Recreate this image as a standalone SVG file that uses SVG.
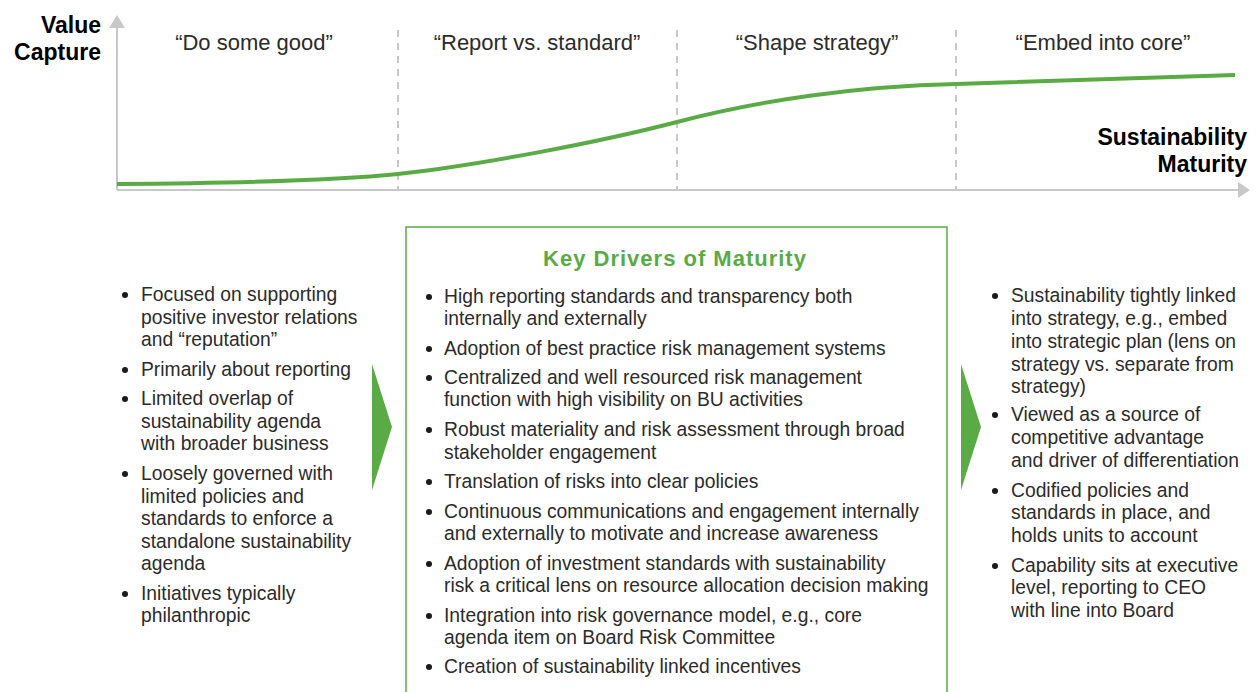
<svg xmlns="http://www.w3.org/2000/svg" width="1257" height="692" viewBox="0 0 1257 692">
<style>
.t{font-family:"Liberation Sans",Arial,sans-serif;font-size:19.3px;fill:#2b2b2b}
.stage{font-family:"Liberation Sans",Arial,sans-serif;font-size:22px;fill:#2b2b2b;text-anchor:middle}
.ax{font-family:"Liberation Sans",Arial,sans-serif;font-size:23px;font-weight:bold;fill:#000;text-anchor:end}
.title{font-family:"Liberation Sans",Arial,sans-serif;font-size:22px;font-weight:bold;fill:#5aab46;text-anchor:middle;letter-spacing:1px}
.axis{stroke:#c8c8c8;stroke-width:2;fill:none}
.dash{stroke:#c8c8c8;stroke-width:2;stroke-dasharray:7 6;fill:none}
.bul{fill:#1a1a1a}
.chev{fill:#5aab46}
</style>
<rect width="1257" height="692" fill="#fff"/>
<g id="chart">
  <line class="axis" x1="117" y1="190" x2="117" y2="28"/>
  <polygon points="109,28 125,28 117,15" fill="#c8c8c8"/>
  <line class="axis" x1="117" y1="190" x2="1238" y2="190"/>
  <polygon points="1238,182 1238,198 1250,190" fill="#c8c8c8"/>
  <line class="dash" x1="398" y1="30" x2="398" y2="190"/>
  <line class="dash" x1="677" y1="30" x2="677" y2="190"/>
  <line class="dash" x1="956" y1="30" x2="956" y2="190"/>
  <path d="M117,184 C260,183 340,180 398,174 C480,165 600,142 677,122 C760,100 860,86 956,84 L1235,75" fill="none" stroke="#5aab46" stroke-width="4"/>
  <text class="ax" x="101" y="33">Value</text>
  <text class="ax" x="101" y="60">Capture</text>
  <text class="ax" x="1247" y="145">Sustainability</text>
  <text class="ax" x="1247" y="172">Maturity</text>
  <text class="stage" x="254" y="50">“Do some good”</text>
  <text class="stage" x="537" y="50">“Report vs. standard”</text>
  <text class="stage" x="817" y="50">“Shape strategy”</text>
  <text class="stage" x="1103" y="50">“Embed into core”</text>
</g>
<g id="connectors">
  <polygon class="chev" points="372,364 392,427 372,490"/>
  <polygon class="chev" points="961,364 981,427 961,490"/>
</g>
<g id="left-column">
  <circle class="bul" cx="125" cy="295" r="3"/>
  <text class="t" x="141" y="301">Focused on supporting</text>
  <text class="t" x="141" y="324">positive investor relations</text>
  <text class="t" x="141" y="346">and “reputation”</text>
  <circle class="bul" cx="125" cy="370" r="3"/>
  <text class="t" x="141" y="376">Primarily about reporting</text>
  <circle class="bul" cx="125" cy="399" r="3"/>
  <text class="t" x="141" y="405">Limited overlap of</text>
  <text class="t" x="141" y="428">sustainability agenda</text>
  <text class="t" x="141" y="450">with broader business</text>
  <circle class="bul" cx="125" cy="474" r="3"/>
  <text class="t" x="141" y="480">Loosely governed with</text>
  <text class="t" x="141" y="503">limited policies and</text>
  <text class="t" x="141" y="525">standards to enforce a</text>
  <text class="t" x="141" y="548">standalone sustainability</text>
  <text class="t" x="141" y="570">agenda</text>
  <circle class="bul" cx="125" cy="594" r="3"/>
  <text class="t" x="141" y="600">Initiatives typically</text>
  <text class="t" x="141" y="622">philanthropic</text>
</g>
<g id="key-drivers">
  <path d="M406,700 L406,227 L947,227 L947,700" fill="none" stroke="#5aab46" stroke-width="1.5"/>
  <text class="title" x="675" y="266">Key Drivers of Maturity</text>
  <circle class="bul" cx="429" cy="297" r="3"/>
  <text class="t" x="444" y="303">High reporting standards and transparency both</text>
  <text class="t" x="444" y="325">internally and externally</text>
  <circle class="bul" cx="429" cy="349" r="3"/>
  <text class="t" x="444" y="355">Adoption of best practice risk management systems</text>
  <circle class="bul" cx="429" cy="378" r="3"/>
  <text class="t" x="444" y="384">Centralized and well resourced risk management</text>
  <text class="t" x="444" y="406">function with high visibility on BU activities</text>
  <circle class="bul" cx="429" cy="430" r="3"/>
  <text class="t" x="444" y="436">Robust materiality and risk assessment through broad</text>
  <text class="t" x="444" y="459">stakeholder engagement</text>
  <circle class="bul" cx="429" cy="482" r="3"/>
  <text class="t" x="444" y="488">Translation of risks into clear policies</text>
  <circle class="bul" cx="429" cy="512" r="3"/>
  <text class="t" x="444" y="518">Continuous communications and engagement internally</text>
  <text class="t" x="444" y="540">and externally to motivate and increase awareness</text>
  <circle class="bul" cx="429" cy="564" r="3"/>
  <text class="t" x="444" y="570">Adoption of investment standards with sustainability</text>
  <text class="t" x="444" y="592">risk a critical lens on resource allocation decision making</text>
  <circle class="bul" cx="429" cy="616" r="3"/>
  <text class="t" x="444" y="622">Integration into risk governance model, e.g., core</text>
  <text class="t" x="444" y="644">agenda item on Board Risk Committee</text>
  <circle class="bul" cx="429" cy="667" r="3"/>
  <text class="t" x="444" y="673">Creation of sustainability linked incentives</text>
</g>
<g id="right-column">
  <circle class="bul" cx="995" cy="296" r="3"/>
  <text class="t" x="1011" y="302">Sustainability tightly linked</text>
  <text class="t" x="1011" y="325">into strategy, e.g., embed</text>
  <text class="t" x="1011" y="348">into strategic plan (lens on</text>
  <text class="t" x="1011" y="371">strategy vs. separate from</text>
  <text class="t" x="1011" y="393">strategy)</text>
  <circle class="bul" cx="995" cy="415" r="3"/>
  <text class="t" x="1011" y="421">Viewed as a source of</text>
  <text class="t" x="1011" y="444">competitive advantage</text>
  <text class="t" x="1011" y="467">and driver of differentiation</text>
  <circle class="bul" cx="995" cy="491" r="3"/>
  <text class="t" x="1011" y="497">Codified policies and</text>
  <text class="t" x="1011" y="519">standards in place, and</text>
  <text class="t" x="1011" y="542">holds units to account</text>
  <circle class="bul" cx="995" cy="566" r="3"/>
  <text class="t" x="1011" y="572">Capability sits at executive</text>
  <text class="t" x="1011" y="594">level, reporting to CEO</text>
  <text class="t" x="1011" y="617">with line into Board</text>
</g>
</svg>
